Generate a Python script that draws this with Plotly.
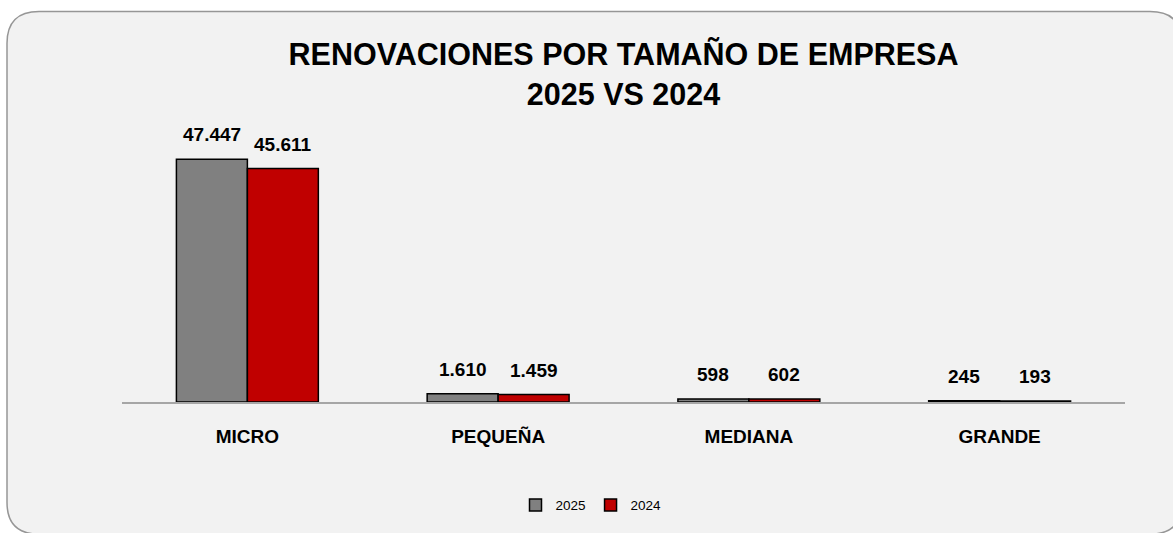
import plotly.graph_objects as go

categories = ["MICRO", "PEQUEÑA", "MEDIANA", "GRANDE"]
values_2025 = [47447, 1610, 598, 245]
values_2024 = [45611, 1459, 602, 193]
series_names = ["2025", "2024"]
colors = ["#808080", "#c00000"]

W, H = 1173, 533
ML, MR, MT, MB = 122, 48, 95, 129
PW, PH = W - ML - MR, H - MT - MB
BARGAP = 0.434

def px2x(px):
    return (px - ML) / PW

def px2y(py):
    return (H - MB - py) / PH

FONT = "Liberation Sans, Arial, sans-serif"

fig = go.Figure()
for name, vals, col in zip(series_names, [values_2025, values_2024], colors):
    fig.add_trace(go.Bar(
        x=categories, y=vals, name=name,
        marker=dict(color=col, line=dict(color="#000000", width=1.5)),
        cliponaxis=False,
    ))

# value labels placed from the data, offset to each grouped bar's centre
half = (1 - BARGAP) / 4
annotations = []
for k, vals in enumerate([values_2025, values_2024]):
    off = -half if k == 0 else half
    for i, v in enumerate(vals):
        annotations.append(dict(
            x=i + off, y=v, xref="x", yref="y",
            text=f"{v:,}".replace(",", "."), showarrow=False,
            yanchor="bottom", yshift=12,
            font=dict(family=FONT, size=19, color="#000000", weight="bold"),
        ))

# rounded background card
x0, y0, x1, y1, r = 7, 11, 1182, 537, 32
rx, ry = r / PW, r / PH
X0, X1 = px2x(x0), px2x(x1)
Y0, Y1 = px2y(y0), px2y(y1)
path = (f"M {X0+rx},{Y0} L {X1-rx},{Y0} Q {X1},{Y0} {X1},{Y0-ry} "
        f"L {X1},{Y1+ry} Q {X1},{Y1} {X1-rx},{Y1} L {X0+rx},{Y1} "
        f"Q {X0},{Y1} {X0},{Y1+ry} L {X0},{Y0-ry} Q {X0},{Y0} {X0+rx},{Y0} Z")

fig.update_layout(
    width=W, height=H,
    margin=dict(l=ML, r=MR, t=MT, b=MB),
    paper_bgcolor="#ffffff",
    plot_bgcolor="rgba(0,0,0,0)",
    separators=",.",
    barmode="group", bargap=BARGAP, bargroupgap=0,
    title=dict(
        text="RENOVACIONES POR TAMAÑO DE EMPRESA<br>2025 VS 2024",
        x=(ML + PW / 2) / W, xanchor="center",
        y=1 - 65 / H, yanchor="top",
        font=dict(family=FONT, size=30.5, color="#000000", weight="bold"),
    ),
    annotations=annotations,
    shapes=[dict(type="path", xref="paper", yref="paper", path=path,
                 fillcolor="#f2f2f2", line=dict(color="#969696", width=1.5),
                 layer="below")],
    xaxis=dict(
        showline=True, linecolor="#a6a6a6", linewidth=1.5,
        showgrid=False, ticks="", ticklabelstandoff=16,
        tickfont=dict(family=FONT, size=19, color="#000000", weight="bold"),
    ),
    yaxis=dict(range=[0, 60000], visible=False, showgrid=False),
    legend=dict(
        orientation="h", x=px2x(591), xanchor="center",
        y=px2y(508), yanchor="middle",
        font=dict(family=FONT, size=13.5, color="#000000"),
        itemwidth=30, bgcolor="rgba(0,0,0,0)",
    ),
    showlegend=True,
)

fig.write_html("out.html", config={"displayModeBar": False},
               post_script="document.body.style.margin='0';")
